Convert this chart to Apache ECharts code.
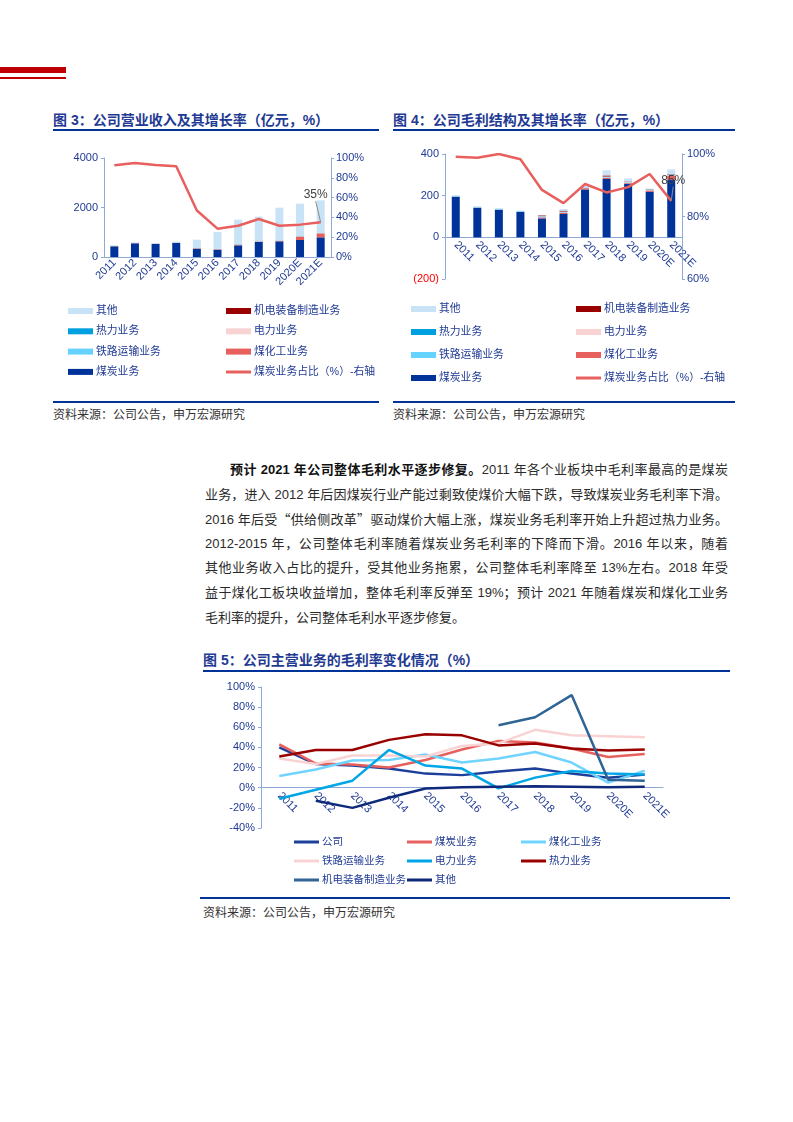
<!DOCTYPE html>
<html lang="zh-CN">
<head>
<meta charset="utf-8">
<script src="https://cdn.jsdelivr.net/npm/echarts@6/dist/echarts.min.js"></script>
<style>
body{margin:0;width:793px;height:1122px;position:relative;background:#fff;overflow:hidden;
	font-family:"Liberation Sans","Noto Sans CJK SC",sans-serif}
.blk{position:absolute}
.title{position:absolute;font-size:14px;font-weight:bold;color:#1F3A93;line-height:20px;white-space:nowrap}
.rule{position:absolute;height:2px;background:#003399}
.src{position:absolute;font-size:12px;color:#333;line-height:16px;white-space:nowrap}
.para{position:absolute;left:205px;top:458px;width:523px;font-size:13px;line-height:24.6px;color:#2a2a2a}
.para div{text-align:justify;text-align-last:justify;text-justify:inter-character;height:24.6px;overflow:hidden}
.para div.last{text-align-last:left}
.cjk{font-family:"Noto Sans CJK SC",sans-serif}
</style>
</head>
<body>
<div class="blk" style="left:0;top:67px;width:66px;height:6px;background:#C00000"></div>
<div class="blk" style="left:0;top:77px;width:66px;height:2px;background:#C00000"></div>

<div class="title" style="left:53px;top:110px">图 3：公司营业收入及其增长率（亿元，%）</div>
<div class="rule" style="left:53px;top:129px;width:326px"></div>
<div class="title" style="left:393px;top:110px">图 4：公司毛利结构及其增长率（亿元，%）</div>
<div class="rule" style="left:393px;top:129px;width:342px"></div>

<div id="chart3" class="blk" style="left:53px;top:135px;width:340px;height:262px"></div>
<div id="chart4" class="blk" style="left:393px;top:135px;width:350px;height:262px"></div>

<div class="rule" style="left:53px;top:401px;width:326px"></div>
<div class="src" style="left:53px;top:407px">资料来源：公司公告，申万宏源研究</div>
<div class="rule" style="left:393px;top:401px;width:342px"></div>
<div class="src" style="left:393px;top:407px">资料来源：公司公告，申万宏源研究</div>

<div class="para">
	<div style="padding-left:25px"><b style="color:#111">预计 2021 年公司整体毛利水平逐步修复。</b>2011 年各个业板块中毛利率最高的是煤炭</div>
	<div>业务，进入 2012 年后因煤炭行业产能过剩致使煤价大幅下跌，导致煤炭业务毛利率下滑。</div>
	<div>2016 年后受<span class="cjk">“</span>供给侧改革<span class="cjk">”</span>驱动煤价大幅上涨，煤炭业务毛利率开始上升超过热力业务。</div>
	<div>2012-2015 年，公司整体毛利率随着煤炭业务毛利率的下降而下滑。2016 年以来，随着</div>
	<div>其他业务收入占比的提升，受其他业务拖累，公司整体毛利率降至 13%左右。2018 年受</div>
	<div>益于煤化工板块收益增加，整体毛利率反弹至 19%；预计 2021 年随着煤炭和煤化工业务</div>
	<div class="last">毛利率的提升，公司整体毛利水平逐步修复。</div>
</div>

<div class="title" style="left:203px;top:650px">图 5：公司主营业务的毛利率变化情况（%）</div>
<div class="rule" style="left:203px;top:670px;width:527px"></div>
<div id="chart5" class="blk" style="left:200px;top:675px;width:535px;height:215px"></div>
<div class="rule" style="left:200px;top:897px;width:530px"></div>
<div class="src" style="left:203px;top:905px">资料来源：公司公告，申万宏源研究</div>

<script>
var years = ['2011', '2012', '2013', '2014', '2015', '2016', '2017', '2018', '2019', '2020E', '2021E'];

// 图3 营业收入（亿元）
var revCoal  = [431, 552, 525, 566, 323, 283, 471, 606, 633, 687, 795];
var revChem  = [10, 10, 10, 10, 15, 15, 15, 20, 20, 135, 160];
var revRail  = [5, 5, 5, 5, 10, 10, 10, 15, 10, 10, 10];
var revPower = [5, 5, 5, 5, 5, 5, 5, 5, 5, 5, 5];
var revHeat  = [3, 3, 3, 3, 3, 3, 3, 3, 3, 3, 3];
var revMech  = [0, 0, 0, 0, 8, 8, 8, 8, 3, 3, 3];
var revOther = [17, 18, 18, 31, 336, 686, 996, 973, 1319, 1312, 1314];
var revCoalShare = [92.6, 95, 93, 91.6, 47, 28.6, 31.6, 38.4, 31.6, 32.7, 35];

// 图4 毛利（亿元）
var gpCoal  = [195, 142, 133, 122, 91, 112, 230, 280, 256, 218, 275];
var gpChem  = [0, 0, 0, 0, 5, 6, 6, 6, 4, 7, 20];
var gpRail  = [2, 2, 2, 2, 3, 3, 3, 3, 3, 2, 3];
var gpPower = [1, 1, 1, 1, 2, 2, 2, 2, 2, 2, 2];
var gpHeat  = [1, 1, 1, 1, 1, 1, 1, 1, 1, 1, 1];
var gpMech  = [0, 0, 0, 0, 3, 4, 0, 5, 2, 1, 2];
var gpOther = [3, 3, 2, 2, 1, 8, 4, 25, 15, 3, 23];
var gpCoalShare = [99.1, 98.8, 100, 98.3, 88.5, 84.3, 90.4, 87.7, 89.4, 93.6, 85];

// 图5 毛利率（%）
var gmCompany = [40, 23.5, 22, 19, 14, 12.5, 16, 19, 14, 10, 13];
var gmCoal    = [43, 24, 23, 20, 27.5, 38, 46.5, 45, 39, 30.5, 33.5];
var gmChem    = [11.6, 18, 27, 27.5, 33, 25, 29, 35.5, 25, 5, 17];
var gmRail    = [29, 23.6, 32, 32, 31, 41.5, 44, 57.5, 52, 51, 50];
var gmPower   = [-11, -2, 7, 37.5, 22, 19, -0.7, 10, 16.6, 14, 13];
var gmHeat    = [31, 37.5, 37.5, 47.5, 53, 52, 42, 44, 39, 37, 38];
var gmMech    = [null, null, null, null, null, null, 62, 70, 92, 8, 7];
var gmOther   = [null, -13, -20, -10, -0.7, 0.5, 1, 1.5, 1, 0.5, 1];

var C_OTHER = '#C8E2F6', C_MECH = '#990000', C_HEAT = '#00A0E0', C_POWER = '#F9D3D3',
	C_RAIL = '#66D2FF', C_CHEM = '#E8605E', C_COAL = '#003399', C_LINE = '#E8605E';
var AXIS = '#8EA8D8', LBL = '#1F3A93';
var FONT = '"Liberation Sans","Noto Sans CJK SC",sans-serif';

function lastLabel(arr, text){
	return arr.map(function(v, i){
		if (i !== arr.length - 1) return v;
		return {value: v, label: {show: true, formatter: text}};
	});
}

function legendCol(left, top, gap, names, line, size){
	return {
		orient: 'vertical', left: left, top: top, padding: 0, itemGap: gap,
		itemWidth: 25, itemHeight: line ? 3 : 6, icon: 'rect',
		textStyle: {color: LBL, fontSize: size || 10.8, lineHeight: 14, fontFamily: FONT, padding: [0, 0, 0, -2]},
		data: names, selectedMode: false
	};
}

function barSeries(name, data, color, stack){
	return {name: name, type: 'bar', stack: stack, data: data, barWidth: 8,
		itemStyle: {color: color}, yAxisIndex: 0, silent: true};
}

function yAx(opt){
	var base = {
		type: 'value', splitLine: {show: false},
		axisLine: {show: true, lineStyle: {color: AXIS}},
		axisTick: {show: true, length: 3, lineStyle: {color: AXIS}},
		axisLabel: {color: LBL, fontSize: 11, fontFamily: FONT, margin: 6}
	};
	for (var k in opt) base[k] = opt[k];
	return base;
}

// 只放年份标签的辅助轴，底边对齐到 0 线
function labelAxis(rotate){
	return {
		type: 'category', data: years, gridIndex: 1,
		axisLine: {show: false, onZero: false}, axisTick: {show: false},
		axisLabel: {rotate: rotate, color: LBL, fontSize: 11, margin: 6, interval: 0, fontFamily: FONT}
	};
}

function shareLine(data, text, dx, dy){
	return {
		name: lineName, type: 'line', yAxisIndex: 1, silent: true,
		symbol: 'circle', symbolSize: 0.5, showSymbol: true,
		data: lastLabel(data, text),
		lineStyle: {color: C_LINE, width: 2.5}, itemStyle: {color: C_LINE},
		label: {show: false, position: 'top', color: '#404040', fontSize: 12, fontFamily: FONT},
		labelLayout: {dx: dx, dy: dy},
		labelLine: {show: true, showAbove: true, length2: 0, lineStyle: {color: '#8c8c8c', width: 1}}
	};
}

var lineName = '煤炭业务占比（%）-右轴';

// ---- 图3 ----
var chart3 = echarts.init(document.getElementById('chart3'));
chart3.setOption({
	animation: false,
	textStyle: {fontFamily: FONT},
	grid: {left: 51, top: 23, width: 227, height: 99},
	legend: [
		legendCol(15, 169, 6.3, ['其他', '热力业务', '铁路运输业务', '煤炭业务']),
		legendCol(173, 169, 6.3, ['机电装备制造业务', '电力业务', '煤化工业务']),
		legendCol(173, 230, 6.3, [lineName], true)
	],
	xAxis: {
		type: 'category', data: years,
		axisLine: {lineStyle: {color: AXIS}},
		axisTick: {length: 3, lineStyle: {color: AXIS}},
		axisLabel: {rotate: 45, color: LBL, fontSize: 11, margin: 4, interval: 0}
	},
	yAxis: [
		yAx({min: 0, max: 4000, interval: 2000,
			axisLabel: {color: LBL, fontSize: 11, fontFamily: FONT, margin: 6,
				formatter: function(v){ return String(v); }}}),
		yAx({min: 0, max: 100, interval: 20, position: 'right',
			axisLabel: {color: LBL, fontSize: 11, fontFamily: FONT, margin: 5, formatter: '{value}%'}})
	],
	series: [
		barSeries('煤炭业务', revCoal, C_COAL, 'rev'),
		barSeries('煤化工业务', revChem, C_CHEM, 'rev'),
		barSeries('铁路运输业务', revRail, C_RAIL, 'rev'),
		barSeries('电力业务', revPower, C_POWER, 'rev'),
		barSeries('热力业务', revHeat, C_HEAT, 'rev'),
		barSeries('机电装备制造业务', revMech, C_MECH, 'rev'),
		barSeries('其他', revOther, C_OTHER, 'rev'),
		shareLine(revCoalShare, '35%', -5, -16)
	]
});

// ---- 图4 ----
var chart4 = echarts.init(document.getElementById('chart4'));
chart4.setOption({
	animation: false,
	textStyle: {fontFamily: FONT},
	grid: [
		{left: 52, top: 19, width: 237, height: 125},
		{left: 52, top: 19, width: 237, height: 83}
	],
	legend: [
		legendCol(18, 167, 9, ['其他', '热力业务', '铁路运输业务', '煤炭业务']),
		legendCol(183, 167, 9, ['机电装备制造业务', '电力业务', '煤化工业务']),
		legendCol(183, 236, 9, [lineName], true)
	],
	xAxis: [
		{
			type: 'category', data: years,
			axisLine: {onZero: true, lineStyle: {color: AXIS}},
			axisTick: {length: 3, lineStyle: {color: AXIS}},
			axisLabel: {show: false}
		},
		labelAxis(-45)
	],
	yAxis: [
		yAx({min: -200, max: 400, interval: 200,
			axisLabel: {fontSize: 11, fontFamily: FONT, margin: 6,
				color: function(v){ return v < 0 ? '#FF0000' : LBL; },
				formatter: function(v){ return v < 0 ? '(' + (-v) + ')' : String(v); }}}),
		yAx({min: 60, max: 100, interval: 20, position: 'right',
			axisLabel: {color: LBL, fontSize: 11, fontFamily: FONT, margin: 5, formatter: '{value}%'}}),
		{type: 'value', gridIndex: 1, show: false}
	],
	series: [
		barSeries('煤炭业务', gpCoal, C_COAL, 'gp'),
		barSeries('煤化工业务', gpChem, C_CHEM, 'gp'),
		barSeries('铁路运输业务', gpRail, C_RAIL, 'gp'),
		barSeries('电力业务', gpPower, C_POWER, 'gp'),
		barSeries('热力业务', gpHeat, C_HEAT, 'gp'),
		barSeries('机电装备制造业务', gpMech, C_MECH, 'gp'),
		barSeries('其他', gpOther, C_OTHER, 'gp'),
		shareLine(gpCoalShare, '85%', 2, -9)
	]
});

// ---- 图5 ----
var lineDefs = [
	['公司', gmCompany, '#1B3F9A'],
	['煤炭业务', gmCoal, '#E8605E'],
	['煤化工业务', gmChem, '#70D4FF'],
	['铁路运输业务', gmRail, '#F9D3D3'],
	['电力业务', gmPower, '#00A6E6'],
	['热力业务', gmHeat, '#990000'],
	['机电装备制造业务', gmMech, '#2F6494'],
	['其他', gmOther, '#0F2A7A']
];
var chart5 = echarts.init(document.getElementById('chart5'));
chart5.setOption({
	animation: false,
	textStyle: {fontFamily: FONT},
	grid: [
		{left: 61, top: 12, width: 402, height: 141},
		{left: 61, top: 12, width: 402, height: 101}
	],
	legend: [
		legendCol(94, 160, 5, ['公司', '铁路运输业务', '机电装备制造业务'], true, 10.5),
		legendCol(207, 160, 5, ['煤炭业务', '电力业务', '其他'], true, 10.5),
		legendCol(321, 160, 5, ['煤化工业务', '热力业务'], true, 10.5)
	],
	xAxis: [
		{
			type: 'category', data: years,
			axisLine: {onZero: true, lineStyle: {color: AXIS}},
			axisTick: {length: 4, lineStyle: {color: AXIS}},
			axisLabel: {show: false}
		},
		labelAxis(-45)
	],
	yAxis: [
		yAx({min: -40, max: 100, interval: 20,
			axisLabel: {color: LBL, fontSize: 11, fontFamily: FONT, margin: 6, formatter: '{value}%'}}),
		{type: 'value', gridIndex: 1, show: false}
	],
	series: lineDefs.map(function(d){
		return {name: d[0], type: 'line', data: d[1], symbol: 'none', silent: true,
			lineStyle: {color: d[2], width: 2.5}, itemStyle: {color: d[2]}};
	})
});
</script>
</body>
</html>
